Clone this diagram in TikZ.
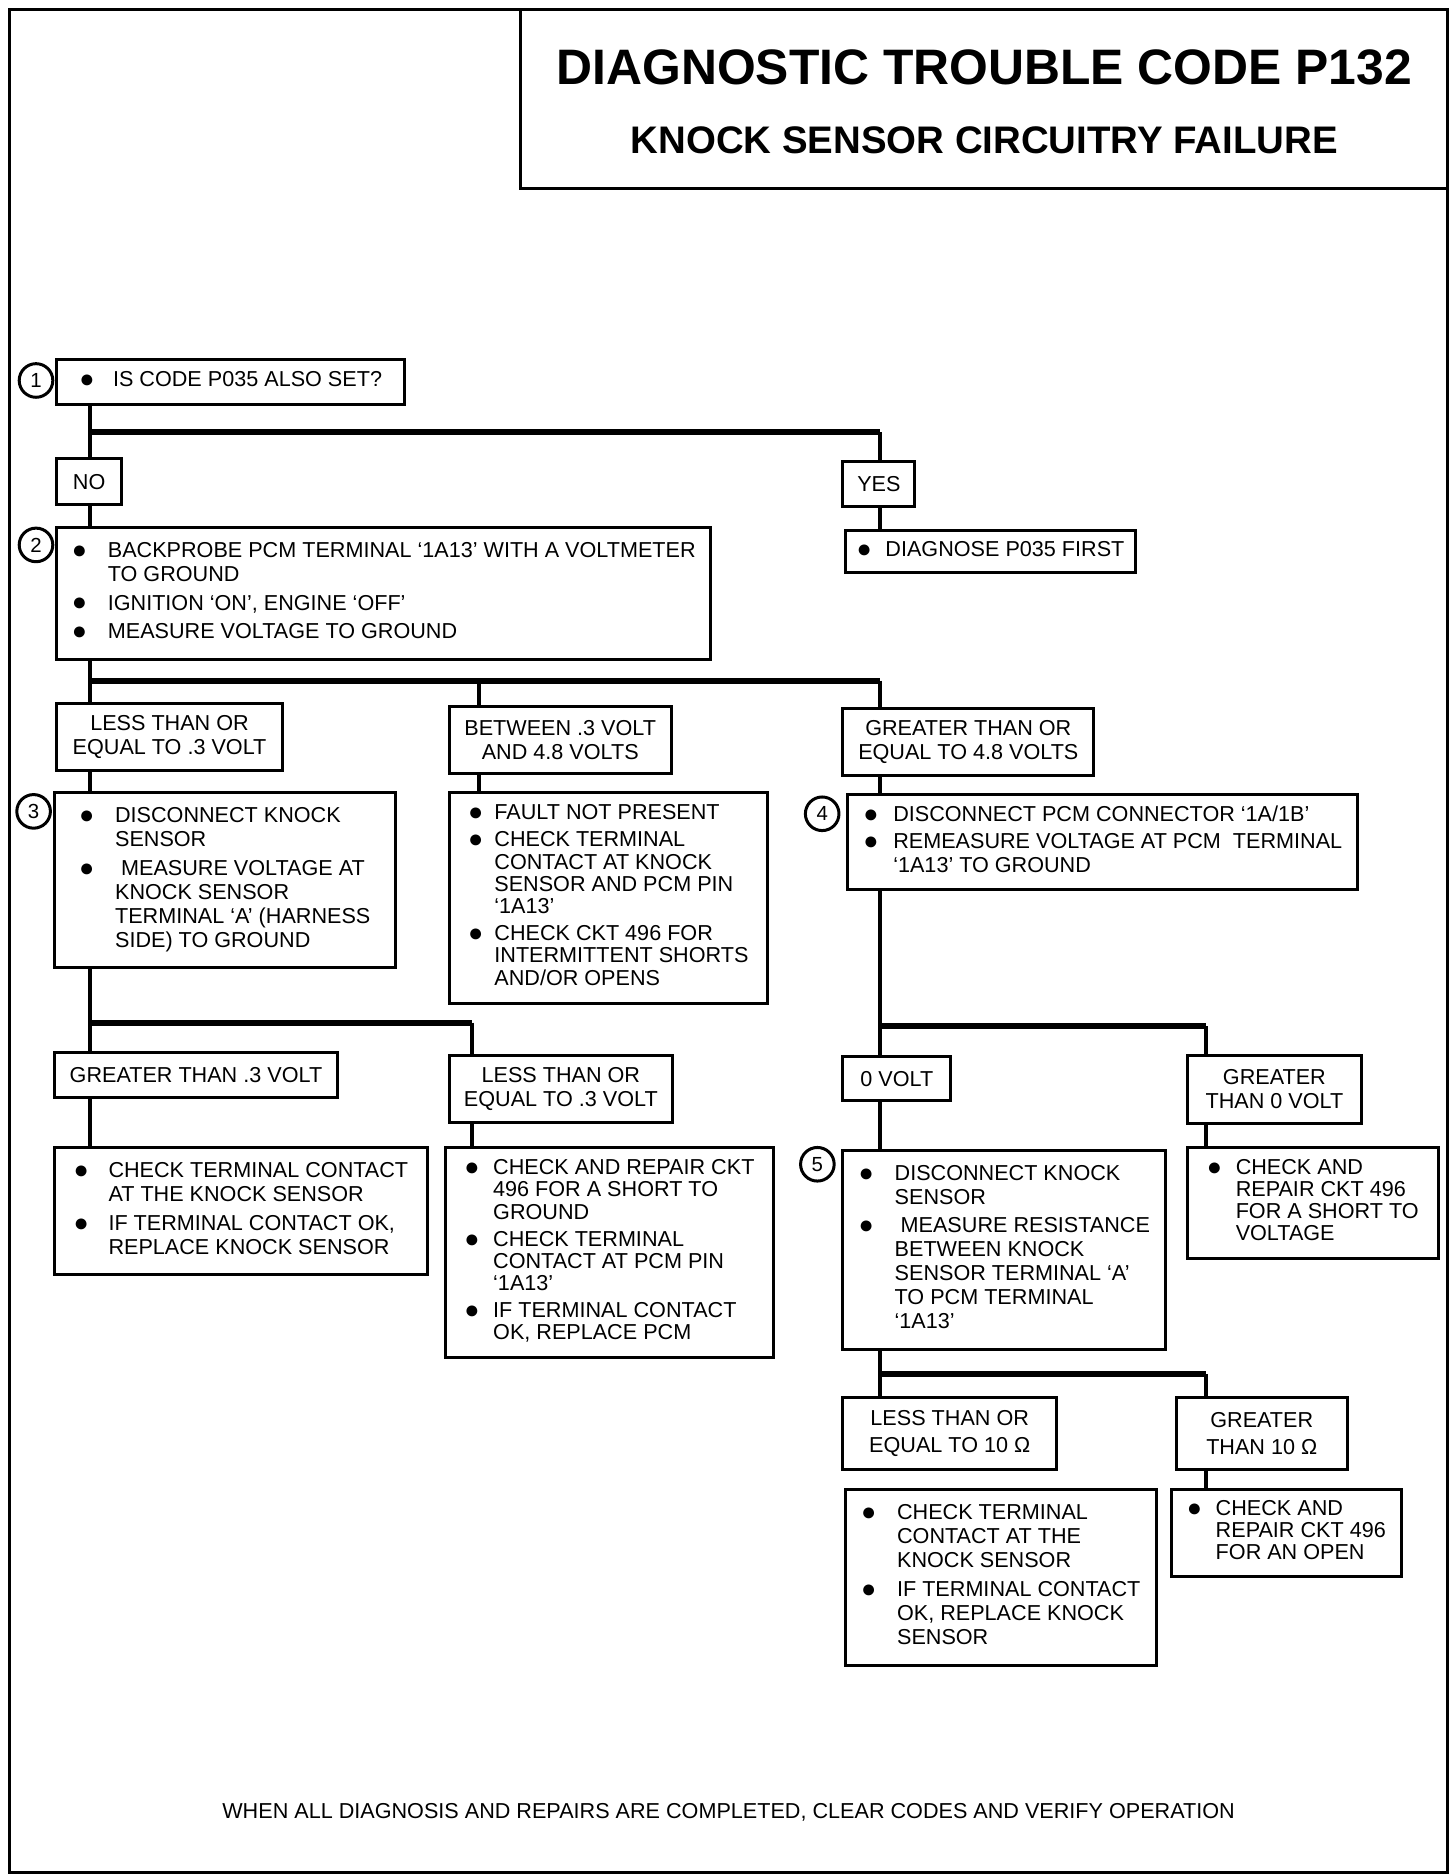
\documentclass[tikz,border=0pt]{standalone}
\usepackage{fontspec}
\setmainfont{Liberation Sans}
\usepackage{array}

\newenvironment{steps}[2][20pt]{\fontsize{18pt}{#1}\selectfont\begin{tabular}{@{}p{#2}@{}l@{}}}{\end{tabular}}
\newcommand{\bul}{\raisebox{-0.8pt}[0pt][0pt]{\fontsize{21pt}{21pt}\selectfont ●}}

\begin{document}
\begin{tikzpicture}[x=1pt,y=-1pt,
	box/.style={draw,line width=2.5pt,anchor=north west,inner sep=0pt,align=left,font=\fontsize{18pt}{20pt}\selectfont},
	tag/.style={box,align=center},
	num/.style={draw,circle,line width=2.5pt,minimum size=28pt,inner sep=0pt,fill=white,font=\fontsize{17pt}{17pt}\selectfont},
	bar/.style={line width=5pt},
	stem/.style={line width=3pt}]
	\useasboundingbox (0,0) rectangle (1213,1563);

	% frame and title
	\draw[line width=2.5pt] (8,8) rectangle (1206,1560);
	\draw[line width=2.5pt] (434,8) rectangle (1206,157);
	\draw (820,56) node (title) [font=\fontsize{41.5pt}{44pt}\selectfont\bfseries] {DIAGNOSTIC TROUBLE CODE P132};
	\draw (820,117) node (subtitle) [font=\fontsize{32pt}{34pt}\selectfont\bfseries] {KNOCK SENSOR CIRCUITRY FAILURE};

	% trunks and bar ends
	\coordinate (tl) at (75,0);
	\coordinate (tm) at (399,0);
	\coordinate (tn) at (393,0);
	\coordinate (tr) at (733,0);
	\coordinate (tf) at (1005,0);

	% step 1
	\draw (46,298) node (q1) [box,minimum width=290,minimum height=38] {\begin{steps}{28pt}\bul & IS CODE P035 ALSO SET?\end{steps}};
	\draw (30,317) node (c1) [num] {1};
	\draw (46,381) node (no) [tag,minimum width=54,minimum height=38] {NO};
	\draw (701,383) node (yes) [tag,minimum width=60,minimum height=38] {YES};
	\draw (703,441) node (diag) [box,minimum width=242,minimum height=35] {\begin{steps}{24pt}\bul & DIAGNOSE P035 FIRST\end{steps}};

	% step 2
	\draw (46,438) node (q2) [box,minimum width=545,minimum height=110] {\begin{steps}{30pt}
		\bul & BACKPROBE PCM TERMINAL ‘1A13’ WITH A VOLTMETER\\
		& TO GROUND\\[4pt]
		\bul & IGNITION ‘ON’, ENGINE ‘OFF’\\[4pt]
		\bul & MEASURE VOLTAGE TO GROUND\end{steps}};
	\draw (30,454) node (c2) [num] {2};
	\draw (46,585) node (lt3) [tag,minimum width=188,minimum height=56] {LESS THAN OR\\EQUAL TO .3 VOLT};
	\draw (373,587) node (btw) [tag,minimum width=185,minimum height=56] {BETWEEN .3 VOLT\\AND 4.8 VOLTS};
	\draw (701,589) node (ge48) [tag,minimum width=209,minimum height=56] {GREATER THAN OR\\EQUAL TO 4.8 VOLTS};

	% step 3 and fault not present
	\draw (44,659) node (q3) [box,minimum width=284,minimum height=146] {\begin{steps}{30pt}
		\bul & DISCONNECT KNOCK\\
		& SENSOR\\[4pt]
		\bul & \hspace{5pt}MEASURE VOLTAGE AT\\
		& KNOCK SENSOR\\
		& TERMINAL ‘A’ (HARNESS\\
		& SIDE) TO GROUND\end{steps}};
	\draw (28,676) node (c3) [num] {3};
	\draw (373,659) node (fnp) [box,minimum width=265,minimum height=176] {\begin{steps}[18.5pt]{22pt}
		\bul & FAULT NOT PRESENT\\[4pt]
		\bul & CHECK TERMINAL\\
		& CONTACT AT KNOCK\\
		& SENSOR AND PCM PIN\\
		& ‘1A13’\\[4pt]
		\bul & CHECK CKT 496 FOR\\
		& INTERMITTENT SHORTS\\
		& AND/OR OPENS\end{steps}};

	% step 4
	\draw (705,661) node (q4) [box,minimum width=425,minimum height=79] {\begin{steps}{25pt}
		\bul & DISCONNECT PCM CONNECTOR ‘1A/1B’\\[3pt]
		\bul & REMEASURE VOLTAGE AT PCM\ \ TERMINAL\\
		& ‘1A13’ TO GROUND\end{steps}};
	\draw (685,678) node (c4) [num] {4};

	% results of step 3
	\draw (44,876) node (gt3) [tag,minimum width=236,minimum height=37] {GREATER THAN .3 VOLT};
	\draw (373,878) node (le3) [tag,minimum width=186,minimum height=56] {LESS THAN OR\\EQUAL TO .3 VOLT};
	\draw (44,955) node (chk3) [box,minimum width=311,minimum height=106] {\begin{steps}{29pt}
		\bul & CHECK TERMINAL CONTACT\\
		& AT THE KNOCK SENSOR\\[4pt]
		\bul & IF TERMINAL CONTACT OK,\\
		& REPLACE KNOCK SENSOR\end{steps}};
	\draw (370,955) node (rep3) [box,minimum width=273,minimum height=175] {\begin{steps}[18.5pt]{24pt}
		\bul & CHECK AND REPAIR CKT\\
		& 496 FOR A SHORT TO\\
		& GROUND\\[4pt]
		\bul & CHECK TERMINAL\\
		& CONTACT AT PCM PIN\\
		& ‘1A13’\\[4pt]
		\bul & IF TERMINAL CONTACT\\
		& OK, REPLACE PCM\end{steps}};

	% results of step 4
	\draw (701,879) node (zero) [tag,minimum width=90,minimum height=37] {0 VOLT};
	\draw (988,878) node (gt0) [tag,minimum width=145,minimum height=57] {GREATER\\THAN 0 VOLT};
	\draw (701,957) node (q5) [box,minimum width=269,minimum height=166] {\begin{steps}{30pt}
		\bul & DISCONNECT KNOCK\\
		& SENSOR\\[3pt]
		\bul & \hspace{5pt}MEASURE RESISTANCE\\
		& BETWEEN KNOCK\\
		& SENSOR TERMINAL ‘A’\\
		& TO PCM TERMINAL\\
		& ‘1A13’\end{steps}};
	\draw (681,970) node (c5) [num] {5};
	\draw (988,955) node (rep0) [box,minimum width=209,minimum height=92] {\begin{steps}[18.5pt]{24pt}
		\bul & CHECK AND\\
		& REPAIR CKT 496\\
		& FOR A SHORT TO\\
		& VOLTAGE\end{steps}};

	% results of step 5
	\draw (701,1163) node (le10) [tag,minimum width=178,minimum height=60,font=\fontsize{18pt}{23pt}\selectfont] {LESS THAN OR\\EQUAL TO 10 Ω};
	\draw (979,1163) node (gt10) [tag,minimum width=142,minimum height=60,font=\fontsize{18pt}{23pt}\selectfont] {GREATER\\THAN 10 Ω};
	\draw (703,1240) node (chk10) [box,minimum width=259,minimum height=146] {\begin{steps}{30pt}
		\bul & CHECK TERMINAL\\
		& CONTACT AT THE\\
		& KNOCK SENSOR\\[4pt]
		\bul & IF TERMINAL CONTACT\\
		& OK, REPLACE KNOCK\\
		& SENSOR\end{steps}};
	\draw (975,1240) node (open10) [box,minimum width=191,minimum height=72] {\begin{steps}[18.5pt]{24pt}
		\bul & CHECK AND\\
		& REPAIR CKT 496\\
		& FOR AN OPEN\end{steps}};

	\draw (607,1510) node (note) [font=\fontsize{18pt}{20pt}\selectfont] {WHEN ALL DIAGNOSIS AND REPAIRS ARE COMPLETED, CLEAR CODES AND VERIFY OPERATION};

	% connectors
	\coordinate (b1) at (733,360);
	\coordinate (b2) at (733,567);
	\coordinate (b3) at (393,852);
	\coordinate (b4) at (1005,855);
	\coordinate (b5) at (1005,1145);

	\draw[stem] (q1.south -| tl) -- (no.north -| tl);
	\draw[bar] (b1 -| tl) -- (b1);
	\draw[stem] (b1) -- (yes.north -| tr);
	\draw[stem] (yes.south -| tr) -- (diag.north -| tr);
	\draw[stem] (no.south -| tl) -- (q2.north -| tl);

	\draw[stem] (q2.south -| tl) -- (lt3.north -| tl);
	\draw[bar] (b2 -| tl) -- (b2);
	\draw[stem] (b2 -| tm) -- (btw.north -| tm);
	\draw[stem] (b2) -- (ge48.north -| tr);
	\draw[stem] (lt3.south -| tl) -- (q3.north -| tl);
	\draw[stem] (btw.south -| tm) -- (fnp.north -| tm);
	\draw[stem] (ge48.south -| tr) -- (q4.north -| tr);

	\draw[stem] (q3.south -| tl) -- (gt3.north -| tl);
	\draw[bar] (b3 -| tl) -- (b3);
	\draw[stem] (b3) -- (le3.north -| tn);
	\draw[stem] (gt3.south -| tl) -- (chk3.north -| tl);
	\draw[stem] (le3.south -| tn) -- (rep3.north -| tn);

	\draw[stem] (q4.south -| tr) -- (zero.north -| tr);
	\draw[bar] (b4 -| tr) -- (b4);
	\draw[stem] (b4) -- (gt0.north -| tf);
	\draw[stem] (zero.south -| tr) -- (q5.north -| tr);
	\draw[stem] (gt0.south -| tf) -- (rep0.north -| tf);

	\draw[stem] (q5.south -| tr) -- (le10.north -| tr);
	\draw[bar] (b5 -| tr) -- (b5);
	\draw[stem] (b5) -- (gt10.north -| tf);
	\draw[stem] (gt10.south -| tf) -- (open10.north -| tf);
\end{tikzpicture}
\end{document}
